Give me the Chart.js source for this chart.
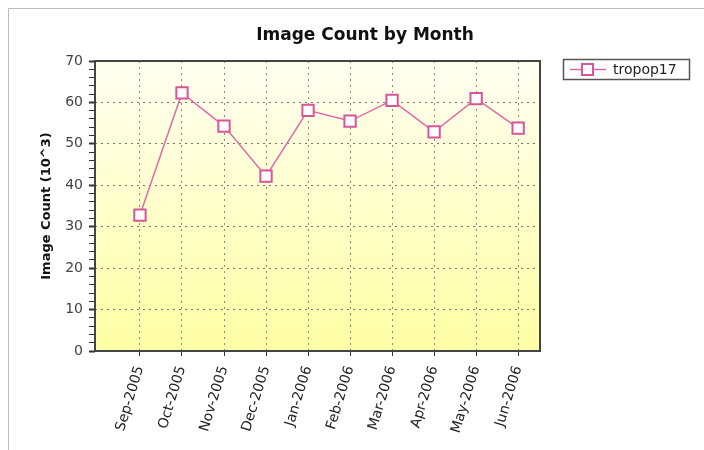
<!DOCTYPE html>
<html>
<head>
<meta charset="utf-8">
<title>Image Count by Month</title>
<script src="https://cdn.jsdelivr.net/npm/chart.js@4/dist/chart.umd.min.js"></script>
<style>
  html, body { margin: 0; padding: 0; background: #fff; }
  canvas { display: block; }
</style>
</head>
<body>
<canvas id="countChart" width="704" height="450"></canvas>
<script>
// ---- data ----
const months = ['Sep-2005', 'Oct-2005', 'Nov-2005', 'Dec-2005', 'Jan-2006',
                'Feb-2006', 'Mar-2006', 'Apr-2006', 'May-2006', 'Jun-2006'];
const imageCounts = [32.8, 62.3, 54.3, 42.2, 58.1, 55.5, 60.5, 52.9, 60.9, 53.8];
const seriesName = 'tropop17';
const chartTitle = 'Image Count by Month';
const yTitle = 'Image Count (10^3)';

const FONT = '"DejaVu Sans", sans-serif';
const PINK = '#d8559a';

// frame, plot background, plot border, title and legend box
const decorPlugin = {
    id: 'decor',
    beforeDraw(chart) {
        const { ctx, chartArea: a } = chart;
        ctx.save();
        ctx.fillStyle = '#fff';
        ctx.fillRect(0, 0, chart.width, chart.height);
        ctx.strokeStyle = '#bbb';
        ctx.lineWidth = 1;
        ctx.beginPath();
        ctx.moveTo(8.5, chart.height);
        ctx.lineTo(8.5, 8.5);
        ctx.lineTo(chart.width, 8.5);
        ctx.stroke();

        const g = ctx.createLinearGradient(0, a.top, 0, a.bottom);
        g.addColorStop(0, '#fffff2');
        g.addColorStop(1, '#ffffa4');
        ctx.fillStyle = g;
        ctx.fillRect(a.left, a.top, a.right - a.left, a.bottom - a.top);
        ctx.restore();
    },
    afterDraw(chart) {
        const { ctx, chartArea: a } = chart;
        ctx.save();
        ctx.strokeStyle = '#444';
        ctx.lineWidth = 2;
        ctx.strokeRect(a.left, a.top, a.right - a.left, a.bottom - a.top);

        // title
        ctx.fillStyle = '#111';
        ctx.font = 'bold 17px ' + FONT;
        ctx.textAlign = 'center';
        ctx.textBaseline = 'middle';
        ctx.fillText(chartTitle, 365, 36);

        // legend
        const ds = chart.data.datasets[0];
        ctx.strokeStyle = '#555';
        ctx.lineWidth = 1.5;
        ctx.strokeRect(563.5, 59.5, 126, 20);
        ctx.strokeStyle = ds.borderColor;
        ctx.lineWidth = 1.5;
        ctx.beginPath();
        ctx.moveTo(570, 69.5);
        ctx.lineTo(606, 69.5);
        ctx.stroke();
        ctx.fillStyle = '#fff';
        ctx.strokeStyle = ds.pointBorderColor;
        ctx.lineWidth = 2;
        ctx.fillRect(582, 64, 11, 11);
        ctx.strokeRect(582, 64, 11, 11);
        ctx.fillStyle = '#222';
        ctx.font = '14px ' + FONT;
        ctx.textAlign = 'left';
        ctx.fillText(ds.label, 613, 70);
        ctx.restore();
    }
};

new Chart(document.getElementById('countChart'), {
    type: 'line',
    data: {
        datasets: [{
            label: seriesName,
            data: imageCounts.map((v, i) => ({ x: i, y: v })),
            borderColor: '#e06aa6',
            borderWidth: 1.5,
            tension: 0,
            pointStyle: 'rect',
            pointRadius: 8,
            pointBorderWidth: 2,
            pointBackgroundColor: '#fff',
            pointBorderColor: PINK
        }]
    },
    options: {
        responsive: false,
        animation: false,
        layout: { padding: { top: 61, right: 164, bottom: 0, left: 0 } },
        plugins: {
            legend: { display: false },
            title: { display: false },
            tooltip: { enabled: false }
        },
        scales: {
            x: {
                type: 'linear',
                min: -1.07,
                max: 9.52,
                afterFit: s => { s.height = 99; },
                afterBuildTicks: s => { s.ticks = months.map((m, i) => ({ value: i })); },
                grid: {
                    color: '#8a8a8a',
                    lineWidth: 1,
                    tickLength: 5,
                    tickColor: '#333'
                },
                border: { display: false, dash: [2, 4] },
                ticks: {
                    autoSkip: false,
                    minRotation: 73,
                    maxRotation: 73,
                    padding: 8,
                    color: '#222',
                    font: { family: FONT, size: 14 },
                    callback: v => months[v]
                }
            },
            y: {
                min: 0,
                max: 70,
                afterFit: s => { s.width = 95; },
                title: {
                    display: true,
                    text: yTitle,
                    color: '#111',
                    font: { family: FONT, size: 13, weight: 'bold' },
                    padding: { top: 39, bottom: 0 }
                },
                grid: {
                    color: c => (c.tick && c.tick.value % 10 === 0) ? '#777' : 'rgba(0,0,0,0)',
                    tickLength: 6,
                    tickColor: '#333',
                    tickWidth: c => (c.tick && c.tick.value % 10 === 0) ? 2 : 1
                },
                border: { display: false, dash: [2, 4] },
                ticks: {
                    stepSize: 2,
                    autoSkip: false,
                    padding: 6,
                    color: '#444',
                    font: { family: FONT, size: 14 },
                    callback: v => v % 10 === 0 ? v : ''
                }
            }
        }
    },
    plugins: [decorPlugin]
});
</script>
</body>
</html>
